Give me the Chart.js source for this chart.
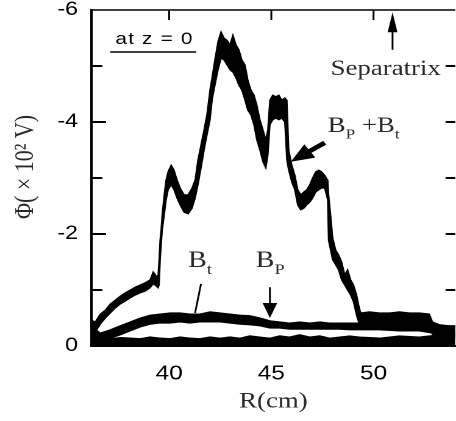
<!DOCTYPE html>
<html>
<head>
<meta charset="utf-8">
<script src="https://cdn.jsdelivr.net/npm/chart.js@4.4.1/dist/chart.umd.min.js"></script>
<style>
  html, body { margin: 0; padding: 0; background: #fff; overflow: hidden; }
  /* the source figure is stretched sideways, so the whole chart is too */
  #wrap { width: 374px; height: 421px; transform: scaleX(1.2193); transform-origin: 0 0; }
</style>
</head>
<body>
<div id="wrap"><canvas id="phiChart"></canvas></div>
<script>
// B_P + B_t trace, upper and lower edge of the noisy band (R in cm, Phi in 10^2 V)
const rMain = [36.20, 36.39, 36.63, 36.88, 37.12, 37.37, 37.61, 37.85, 38.10, 38.34, 38.59, 38.83, 39.07, 39.22, 39.37, 39.46, 39.51, 39.56, 39.61, 39.66,
  39.76, 39.85, 39.95, 40.10, 40.24, 40.39, 40.54, 40.73, 40.93, 41.12, 41.27, 41.41, 41.56, 41.71, 41.85, 42.00, 42.10, 42.24, 42.39, 42.54,
  42.68, 42.83, 42.98, 43.12, 43.27, 43.41, 43.56, 43.71, 43.85, 44.00, 44.15, 44.29, 44.44, 44.59, 44.73, 44.83, 44.93, 45.07, 45.22, 45.37,
  45.51, 45.66, 45.76, 45.85, 46.00, 46.15, 46.29, 46.44, 46.59, 46.73, 46.88, 47.02, 47.17, 47.32, 47.46, 47.61, 47.76, 47.80, 47.90, 48.00,
  48.15, 48.29, 48.44, 48.59, 48.73, 48.88, 49.02, 49.17, 49.27, 49.37, 49.80, 50.29, 50.78, 51.27, 51.76, 52.24, 52.73, 52.88, 53.22, 53.71, 54.00];
const mainUpper = [-0.46, -0.43, -0.57, -0.64, -0.75, -0.82, -0.89, -0.95, -1.00, -1.05, -1.09, -1.13, -1.18, -1.32, -1.25, -1.25, -1.54, -1.89, -2.07, -2.34,
  -2.70, -2.96, -3.11, -3.23, -3.14, -2.96, -2.82, -2.70, -2.70, -2.82, -2.96, -3.32, -3.59, -3.86, -4.13, -4.57, -4.79, -5.11, -5.43, -5.61,
  -5.50, -5.46, -5.38, -5.55, -5.38, -5.29, -5.11, -5.02, -4.75, -4.57, -4.48, -4.30, -4.04, -3.86, -3.68, -3.86, -4.39, -4.48, -4.45, -4.48,
  -4.39, -4.43, -4.39, -3.50, -3.23, -3.05, -2.79, -2.70, -2.75, -2.79, -2.88, -3.00, -3.11, -3.14, -3.11, -3.05, -2.96, -2.70, -2.34, -1.93,
  -1.71, -1.63, -1.50, -1.27, -1.36, -1.18, -1.09, -0.91, -0.73, -0.59, -0.61, -0.59, -0.59, -0.61, -0.59, -0.59, -0.57, -0.43, -0.38, -0.36, -0.36];
const mainLower = [-0.21, -0.25, -0.39, -0.50, -0.59, -0.68, -0.75, -0.80, -0.86, -0.91, -0.95, -0.98, -1.04, -1.11, -1.07, -1.04, -1.09, -1.54, -1.80, -2.07,
  -2.34, -2.61, -2.79, -2.88, -2.79, -2.64, -2.52, -2.39, -2.36, -2.46, -2.64, -2.88, -3.18, -3.50, -3.77, -4.04, -4.39, -4.66, -4.93, -5.14,
  -5.11, -5.02, -4.93, -4.89, -4.79, -4.66, -4.57, -4.39, -4.21, -4.13, -3.95, -3.68, -3.50, -3.29, -3.18, -3.41, -3.95, -4.04, -4.07, -4.04,
  -4.07, -4.00, -3.32, -3.14, -2.93, -2.79, -2.52, -2.43, -2.46, -2.52, -2.57, -2.64, -2.75, -2.79, -2.82, -2.82, -2.61, -1.89, -1.71, -1.54,
  -1.45, -1.36, -1.18, -1.09, -1.00, -0.91, -0.79, -0.55, -0.43, -0.38, -0.39, -0.38, -0.38, -0.38, -0.36, -0.38, -0.34, -0.21, -0.18, -0.14, -0.14];

// B_t and B_P traces
const rLow = [36.20, 36.63, 37.12, 37.61, 38.10, 38.59, 39.07, 39.56, 40.05, 40.54, 41.02, 41.51, 42.00, 42.49, 42.98, 43.46, 43.95,
  44.44, 44.93, 45.41, 45.90, 46.39, 46.88, 47.37, 47.85, 48.34, 48.83, 49.32, 50.29, 51.27, 52.24, 53.22, 54.00];
const btUpper = [-0.36, -0.23, -0.29, -0.36, -0.43, -0.50, -0.55, -0.57, -0.59, -0.59, -0.57, -0.57, -0.61, -0.59, -0.57, -0.55, -0.54,
  -0.50, -0.45, -0.43, -0.41, -0.43, -0.41, -0.43, -0.41, -0.41, -0.41, -0.41, -0.39, -0.39, -0.39, -0.36, -0.36];
const btLower = [0.00, -0.09, -0.14, -0.20, -0.27, -0.34, -0.39, -0.41, -0.41, -0.43, -0.41, -0.43, -0.43, -0.43, -0.41, -0.39, -0.38,
  -0.36, -0.32, -0.32, -0.30, -0.30, -0.30, -0.30, -0.30, -0.30, -0.29, -0.29, -0.29, -0.27, -0.27, -0.21, -0.18];
const bpUpper = [-0.29, -0.16, -0.13, -0.15, -0.14, -0.13, -0.16, -0.14, -0.13, -0.16, -0.14, -0.13, -0.16, -0.14, -0.16, -0.14, -0.18,
  -0.16, -0.14, -0.18, -0.16, -0.20, -0.16, -0.18, -0.14, -0.16, -0.18, -0.16, -0.14, -0.18, -0.16, -0.20, -0.22];

const xTicks = [40, 45, 50];
const yTicks = [0, -2, -4, -6];
const yMinorTicks = [-5, -4, -3, -2, -1];

const SERIF = '"Liberation Serif", "Times New Roman", serif';
const SANS = '"Liberation Sans", Arial, sans-serif';

function pts(xs, ys) {
  return xs.map((v, i) => ({ x: v, y: ys[i] }));
}
function band(label, xs, ys, fill) {
  return {
    label: label,
    data: pts(xs, ys),
    borderColor: '#000',
    backgroundColor: '#000',
    borderWidth: 1.2,
    pointRadius: 0,
    tension: 0,
    fill: fill
  };
}

// text with a lowered subscript, parts = [[text, isSub], ...]
function subText(ctx, parts, x, y, size) {
  let cx = x;
  parts.forEach(([t, sub]) => {
    ctx.font = (sub ? Math.round(size * 0.65) : size) + 'px ' + SERIF;
    ctx.fillText(t, cx, sub ? y + size * 0.3 : y);
    cx += ctx.measureText(t).width;
  });
}

function arrowHead(ctx, tx, ty, fx, fy, len, half) {
  const a = Math.atan2(ty - fy, tx - fx);
  ctx.beginPath();
  ctx.moveTo(tx, ty);
  ctx.lineTo(tx - len * Math.cos(a) + half * Math.sin(a), ty - len * Math.sin(a) - half * Math.cos(a));
  ctx.lineTo(tx - len * Math.cos(a) - half * Math.sin(a), ty - len * Math.sin(a) + half * Math.cos(a));
  ctx.closePath();
  ctx.fill();
}

const decor = {
  id: 'decor',
  afterDraw(chart) {
    const { ctx, chartArea: a, scales: { x, y } } = chart;
    const X = v => x.getPixelForValue(v);
    const Y = v => y.getPixelForValue(v);
    ctx.save();
    ctx.strokeStyle = '#000';
    ctx.fillStyle = '#000';
    ctx.lineWidth = 1.5;

    // top frame line and inward ticks
    ctx.beginPath();
    ctx.moveTo(a.left, a.top); ctx.lineTo(a.right, a.top);
    xTicks.forEach(v => { ctx.moveTo(X(v), a.top); ctx.lineTo(X(v), a.top + 10); });
    ctx.stroke();
    ctx.lineWidth = 2;
    ctx.beginPath();
    yMinorTicks.forEach(v => {
      const len = v % 2 === 0 ? 12 : 9;
      ctx.moveTo(a.left, Y(v)); ctx.lineTo(a.left + len, Y(v));
      ctx.moveTo(a.right, Y(v)); ctx.lineTo(a.right - 8, Y(v));
    });
    ctx.stroke();

    // "at z = 0"
    ctx.font = '17px ' + SANS;
    ctx.letterSpacing = '1px';
    ctx.textBaseline = 'middle';
    ctx.fillText('at z = 0', X(37.37), Y(-5.48));
    ctx.letterSpacing = '0px';
    ctx.lineWidth = 1.5;
    ctx.beginPath();
    ctx.moveTo(X(37.12), Y(-5.25)); ctx.lineTo(X(41.32), Y(-5.25));
    ctx.stroke();

    // separatrix marker
    ctx.beginPath();
    ctx.moveTo(X(50.93), Y(-5.29)); ctx.lineTo(X(50.93), Y(-5.65));
    ctx.stroke();
    arrowHead(ctx, X(50.93), Y(-5.96), X(50.93), Y(-5.29), 20, 4);

    ctx.fillStyle = '#2a2a2a';
    ctx.textBaseline = 'alphabetic';
    ctx.font = '22px ' + SERIF;
    ctx.fillText('Separatrix', X(47.90), Y(-4.84));

    // B_P + B_t label with thick arrow
    subText(ctx, [['B', false], ['P', true], [' +B', false], ['t', true]], X(47.76), Y(-3.82), 22);
    ctx.fillStyle = '#000';
    const tx = X(45.95), ty = Y(-3.29), fx = X(47.61), fy = Y(-3.63);
    ctx.lineWidth = 4.5;
    ctx.beginPath();
    ctx.moveTo(fx, fy);
    ctx.lineTo(tx + (fx - tx) * 0.45, ty + (fy - ty) * 0.45);
    ctx.stroke();
    arrowHead(ctx, tx, ty, fx, fy, 19, 8);

    // B_t label and its pointer
    ctx.fillStyle = '#2a2a2a';
    subText(ctx, [['B', false], ['t', true]], X(40.93), Y(-1.41), 23);
    ctx.strokeStyle = '#000';
    ctx.lineWidth = 1.5;
    ctx.beginPath();
    ctx.moveTo(X(41.56), Y(-1.11)); ctx.lineTo(X(41.27), Y(-0.59));
    ctx.stroke();

    // B_P label and its arrow
    subText(ctx, [['B', false], ['P', true]], X(44.24), Y(-1.41), 23);
    ctx.fillStyle = '#000';
    ctx.beginPath();
    ctx.moveTo(X(44.93), Y(-1.05)); ctx.lineTo(X(44.93), Y(-0.70));
    ctx.stroke();
    arrowHead(ctx, X(44.93), Y(-0.50), X(44.93), Y(-1.05), 15, 6);

    ctx.restore();
  }
};

new Chart(document.getElementById('phiChart').getContext('2d'), {
  type: 'line',
  data: {
    datasets: [
      band('B_P + B_t upper', rMain, mainUpper, false),
      band('B_P + B_t lower', rMain, mainLower, '-1'),
      band('B_t upper', rLow, btUpper, false),
      band('B_t lower', rLow, btLower, '-1'),
      band('B_P', rLow, bpUpper, 'origin')
    ]
  },
  options: {
    responsive: true,
    maintainAspectRatio: false,
    animation: false,
    devicePixelRatio: 2,
    layout: { padding: { left: 0, right: 0, top: 10, bottom: 0 } },
    plugins: {
      legend: { display: false },
      tooltip: { enabled: false }
    },
    scales: {
      x: {
        type: 'linear',
        min: 36.2,
        max: 54.0,
        afterFit: s => { s.height = 75; s.paddingLeft = 0; s.paddingRight = 0; },
        grid: { display: false, drawTicks: false },
        border: { display: true, color: '#000', width: 2 },
        ticks: {
          stepSize: 5,
          includeBounds: false,
          padding: 16,
          color: '#000',
          font: { family: SANS, size: 20 },
          callback: v => xTicks.includes(v) ? String(v) : ''
        },
        title: {
          display: true,
          text: 'R(cm)',
          color: '#2a2a2a',
          font: { family: SERIF, size: 22 },
          padding: { top: 0, bottom: 6 }
        }
      },
      y: {
        type: 'linear',
        min: -6,
        max: 0,
        reverse: true,
        // keep the frame top at the layout padding, not label + padding
        afterFit: s => { s.width = 75; s.paddingTop = 0; s.paddingBottom = 0; },
        grid: { display: false, drawTicks: false },
        border: { display: true, color: '#000', width: 2 },
        ticks: {
          stepSize: 2,
          padding: 11,
          color: '#000',
          font: { family: SANS, size: 19 },
          callback: v => yTicks.includes(v) ? String(v) : ''
        },
        title: {
          display: true,
          text: '\u2003Φ( × 10² V)',
          color: '#2a2a2a',
          font: { family: SERIF, size: 22 },
          padding: { top: 8, bottom: 0 }
        }
      }
    }
  },
  plugins: [decor]
});
</script>
</body>
</html>
